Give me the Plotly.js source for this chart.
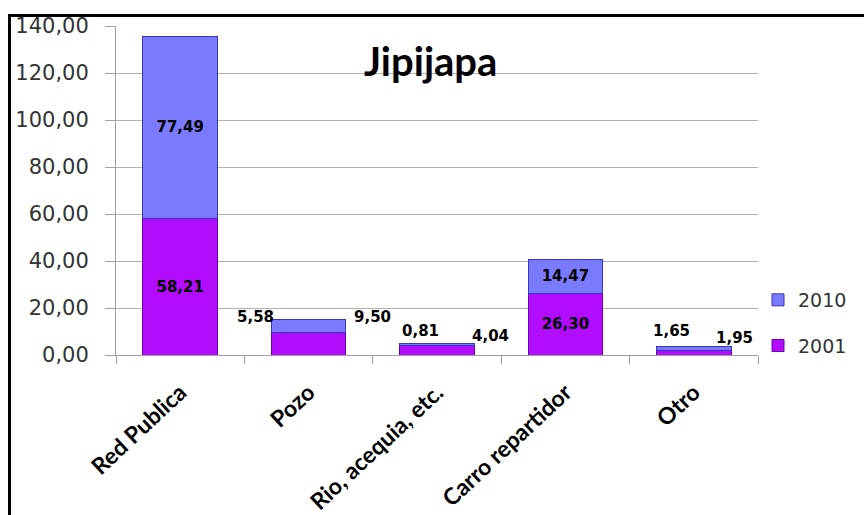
<!DOCTYPE html>
<html>
<head>
<meta charset="utf-8">
<script src="https://cdn.plot.ly/plotly-3.0.1.min.js"></script>
<style>
  html, body { margin: 0; padding: 0; background: #fff; }
  #chart { width: 864px; height: 515px; }
  #frame { position: absolute; left: 8px; top: 14px; width: 900px; height: 520px;
           border-top: 3px solid #000; border-left: 3px solid #000; pointer-events: none; }
</style>
</head>
<body>
<div id="chart"></div>
<div id="frame"></div>
<script>
// ---- data ----
const categories = ["Red Publica", "Pozo", "Rio, acequia, etc.", "Carro repartidor", "Otro"];
const values2001 = [58.21, 9.50, 4.04, 26.30, 1.95];
const values2010 = [77.49, 5.58, 0.81, 14.47, 1.65];
const seriesNames = ["2001", "2010"];
const titleText = "Jipijapa";
const yTicks = [0, 20, 40, 60, 80, 100, 120, 140];

// which labels are drawn inside the bars
const insideLabel = [true, false, false, true, false];

function fmt(v) { return v.toFixed(2).replace(".", ","); }

const labelFont = { family: "DejaVu Sans", size: 15, color: "#000", weight: "bold" };

const trace2001 = {
  type: "bar", name: seriesNames[0], x: categories, y: values2001,
  marker: { color: "#b20cfc", line: { color: "#6a00b0", width: 1 } },
  text: values2001.map((v, i) => insideLabel[i] ? "<b>" + fmt(v) + "</b>" : ""),
  textposition: "inside", insidetextanchor: "middle", textangle: 0,
  textfont: labelFont, legendgroup: "g2001", legendrank: 2, hoverinfo: "skip"
};
const trace2010 = {
  type: "bar", name: seriesNames[1], x: categories, y: values2010,
  marker: { color: "#7a7afc", line: { color: "#3434c8", width: 1 } },
  text: values2010.map((v, i) => insideLabel[i] ? "<b>" + fmt(v) + "</b>" : ""),
  textposition: "inside", insidetextanchor: "middle", textangle: 0,
  textfont: labelFont, legendgroup: "g2010", legendrank: 1, hoverinfo: "skip"
};

// outside labels for the small bars (positioned from data values)
const annotations = [];
const outsideShift = {
  1: { a: [-53, 3], b: [64, 3] },
  2: { a: [-17, 13], b: [53, 8] },
  4: { a: [-22, 16], b: [41, 9] }
};
categories.forEach((c, i) => {
  if (insideLabel[i]) return;
  const total = values2001[i] + values2010[i];
  const s = outsideShift[i];
  annotations.push({ x: c, y: total, xref: "x", yref: "y", text: "<b>" + fmt(values2010[i]) + "</b>",
    showarrow: false, xshift: s.a[0], yshift: s.a[1], font: labelFont });
  annotations.push({ x: c, y: total, xref: "x", yref: "y", text: "<b>" + fmt(values2001[i]) + "</b>",
    showarrow: false, xshift: s.b[0], yshift: s.b[1], font: labelFont });
});
annotations.push({
  text: "<b>" + titleText + "</b>", xref: "paper", yref: "paper", x: 0.49, y: 0.895,
  xanchor: "center", yanchor: "middle", showarrow: false,
  font: { family: "Lato", size: 40, color: "#000" }
});

const layout = {
  width: 864, height: 515,
  margin: { l: 116, r: 101, t: 26, b: 160 },
  paper_bgcolor: "#fff", plot_bgcolor: "#fff",
  barmode: "stack", bargap: 0.42,
  separators: ",.",
  showlegend: true,
  legend: {
    x: 1.0, xanchor: "left", y: 0.225, yanchor: "top",
    traceorder: "grouped", tracegroupgap: 18,
    font: { family: "DejaVu Sans", size: 19, color: "#333" },
    bgcolor: "rgba(0,0,0,0)"
  },
  xaxis: {
    type: "category",
    tickangle: -43,
    tickfont: { family: "Lato", size: 23, color: "#000", weight: "bold" },
    ticklabelstandoff: 14,
    showline: true, linecolor: "#a0a0a0", linewidth: 1,
    ticks: "outside", tickson: "boundaries", ticklen: 8, tickcolor: "#a0a0a0",
    showgrid: false, zeroline: false, automargin: false
  },
  yaxis: {
    range: [0, 140], tickvals: yTicks, tickformat: ".2f",
    tickfont: { family: "DejaVu Sans", size: 21, color: "#333" },
    ticklabelstandoff: 12,
    showline: true, linecolor: "#a0a0a0", linewidth: 1,
    ticks: "outside", ticklen: 10, tickcolor: "#a0a0a0",
    showgrid: true, gridcolor: "#b0b0b0", gridwidth: 1, zeroline: false, automargin: false
  },
  annotations: annotations
};

Plotly.newPlot("chart", [trace2001, trace2010], layout, { displayModeBar: false, staticPlot: true });
</script>
</body>
</html>
